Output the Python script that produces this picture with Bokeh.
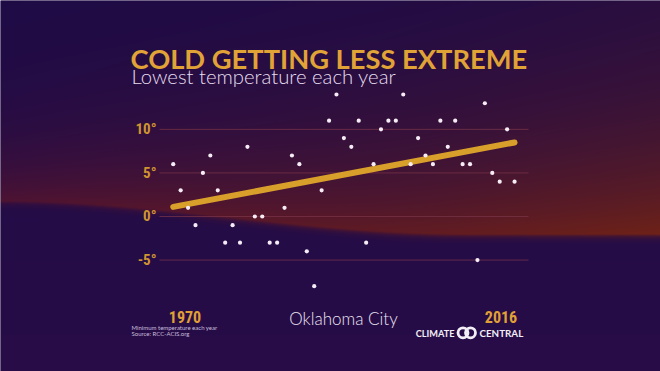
import numpy as np
from bokeh.plotting import figure
from bokeh.models import Label, Range1d, ColumnDataSource
from bokeh.core.properties import value
from bokeh.embed import file_html
from bokeh.resources import INLINE

# ---------------- data ----------------
years = list(range(1970, 2017))
min_temps = [6, 3, 1, -1, 5, 7, 3, -3, -1, -3,
             8, 0, 0, -3, -3, 1, 7, 6, -4, -8,
             3, 11, 14, 9, 8, 11, -3, 6, 10, 11,
             11, 14, 6, 9, 7, 6, 11, 8, 11, 6,
             6, -5, 13, 5, 4, 10, 4]
trend_years = [1970, 2016]
trend_values = [1.1, 8.5]
tick_values = [10, 5, 0, -5]
tick_labels = ["10°", "5°", "0°", "-5°"]
title = "COLD GETTING LESS EXTREME"
subtitle = "Lowest temperature each year"
city = "Oklahoma City"
note_lines = ["Minimum temperature each year", "Source: RCC-ACIS.org"]

# ---------------- layout ----------------
W, H = 660, 371
X0, X1 = 1946.72, 2035.67
Y0, Y1 = -17.79, 24.79


def X(px):  # page-pixel x -> data x
    return X0 + px * (X1 - X0) / W


def Y(py):  # page-pixel y -> data y
    return Y1 - py * (Y1 - Y0) / H


p = figure(width=W, height=H, x_range=Range1d(X0, X1), y_range=Range1d(Y0, Y1),
           output_backend="svg", toolbar_location=None, min_border=0,
           x_axis_type=None, y_axis_type=None)
p.outline_line_color = None
p.grid.visible = False
p.background_fill_color = "#1e0b45"
p.border_fill_color = "#1e0b45"

# ---------------- background gradient ----------------
jj, ii = np.mgrid[0:H, 0:W]
rx = ii.astype(float)
ry = jj.astype(float)
fx = np.clip(rx / 660.0, 0, 1)
base_top = np.array([30, 11, 70], float)
base_bot = np.array([40, 13, 72], float)
fy = (ry / 371.0)[..., None]
base = base_top * (1 - fy) + base_bot * fy
s = np.clip(rx / 460.0, 0, 1)
s = s * s * (3 - 2 * s)
yb = 200 + 33 * s
h = 48 + 75 * fx
d = yb - ry
t = np.where(d >= 0, np.exp(-d / h), np.exp(d / 3.0))
t = t * (0.88 + 0.12 * fx)
Rl = np.array([84, 20, 48], float)
Rr = np.array([110, 34, 24], float)
R = Rl * (1 - fx[..., None]) + Rr * fx[..., None]
col = base * (1 - t[..., None]) + R * t[..., None]
col = np.clip(col, 0, 255).astype(np.uint32)
img = (255 << 24) | (col[..., 2] << 16) | (col[..., 1] << 8) | col[..., 0]
img = np.ascontiguousarray(img[::-1, :]).astype(np.uint32)
p.image_rgba(image=[img], x=X0, y=Y0, dw=X1 - X0, dh=Y1 - Y0)

# ---------------- grid lines ----------------
p.segment(x0=[X(159)] * len(tick_values), x1=[X(528)] * len(tick_values),
          y0=tick_values, y1=tick_values, line_color="#7a3448", line_alpha=0.75,
          line_width=1)

# tick labels
cond = "Roboto Condensed, DejaVu Sans Condensed, Liberation Sans Narrow, Roboto, sans-serif"
p.text(x=[X(156)] * len(tick_values), y=tick_values, text=tick_labels,
       text_font=value(cond), text_font_style="bold", text_font_size="15px",
       text_color="#cf952f", text_align="right", text_baseline="middle")

# ---------------- trend + points ----------------
p.line(trend_years, trend_values, line_color="#d99f2b", line_width=6, line_cap="round")
src = ColumnDataSource(dict(year=years, temp=min_temps))
p.scatter("year", "temp", source=src, size=4.2, fill_color="#f6ecf6",
          line_color=None)

# ---------------- texts ----------------
p.add_layout(Label(x=X(130), y=Y(58), text=title, text_font="Lato",
                   text_font_style="bold", text_font_size="27.3px",
                   text_color="#e2a336", text_baseline="alphabetic"))
p.add_layout(Label(x=X(131), y=Y(75), text=subtitle, text_font="Lato Light",
                   text_font_size="20.3px", text_color="#e6def0",
                   text_baseline="alphabetic"))
p.add_layout(Label(x=X(184.5), y=Y(316.5), text=str(years[0]), text_font=cond,
                   text_font_style="bold", text_font_size="16px",
                   text_color="#e0a035", text_align="center",
                   text_baseline="alphabetic"))
p.add_layout(Label(x=X(500.5), y=Y(316.5), text=str(years[-1]), text_font=cond,
                   text_font_style="bold", text_font_size="16px",
                   text_color="#e0a035", text_align="center",
                   text_baseline="alphabetic"))
p.add_layout(Label(x=X(343), y=Y(318), text=city, text_font="Lato Light",
                   text_font_size="17px", text_color="#ece4f2",
                   text_align="center", text_baseline="alphabetic"))
for k, line in enumerate(note_lines):
    p.add_layout(Label(x=X(131), y=Y(326.5 + 6 * k), text=line, text_font="Lato",
                       text_font_size="6px", text_color="#c9bfdc",
                       text_baseline="middle"))

# Climate Central wordmark
p.add_layout(Label(x=X(454), y=Y(332.5), text="CLIMATE", text_font="Lato",
                   text_font_style="bold", text_font_size="9.2px",
                   text_color="#f2eef6", text_align="right", text_baseline="middle"))
p.add_layout(Label(x=X(479), y=Y(332.5), text="CENTRAL", text_font="Lato",
                   text_font_style="bold", text_font_size="9.8px",
                   text_color="#f2eef6", text_align="left", text_baseline="middle"))
p.scatter(x=[X(462.5), X(470)], y=[Y(332.3), Y(332.3)], size=10,
          fill_color=None, line_color="#f2eef6", line_width=2.8)

open("out.html", "w").write(file_html(p, INLINE))
